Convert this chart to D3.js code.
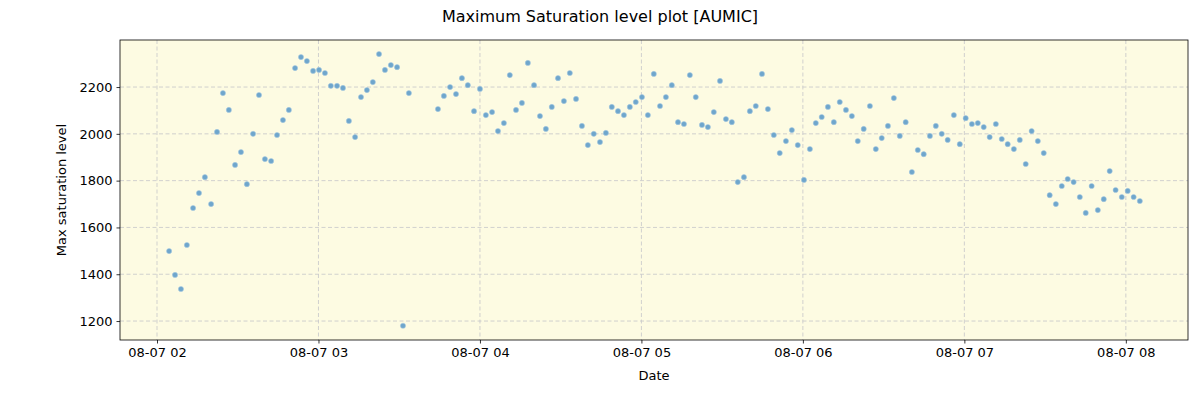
<!DOCTYPE html><html><head><meta charset="utf-8">
<script src="https://cdn.jsdelivr.net/npm/d3@7"></script>
<style>body{margin:0;background:#fff}text{font-family:"DejaVu Sans",sans-serif}</style></head><body>
<svg id="c" width="1200" height="400"></svg>
<script>
// minutes after 2024-08-07 02:00
const minutes=[4.5,6.7,8.9,11.1,13.4,15.6,17.8,20.1,22.3,24.5,
26.7,29.0,31.2,33.4,35.7,37.9,40.1,42.4,44.6,46.8,
49.0,51.3,53.5,55.7,58.0,60.2,62.4,64.6,66.9,69.1,
71.3,73.6,75.8,78.0,80.2,82.5,84.7,86.9,89.2,91.4,93.6,
104.4,106.6,108.9,111.1,113.3,115.5,117.8,120.0,122.2,124.5,
126.7,128.9,131.1,133.4,135.6,137.8,140.1,142.3,144.5,146.7,
149.0,151.2,153.4,155.7,157.9,160.1,162.3,164.6,166.8,169.0,
171.3,173.5,175.7,177.9,180.2,182.4,184.6,186.9,189.1,191.3,
193.6,195.8,198.0,200.2,202.5,204.7,206.9,209.2,211.4,213.6,
215.8,218.1,220.3,222.5,224.8,227.0,229.2,231.4,233.7,235.9,
238.1,240.4,242.6,244.8,247.0,249.3,251.5,253.7,256.0,258.2,
260.4,262.6,264.9,267.1,269.3,271.6,273.8,276.0,278.2,280.5,
282.7,284.9,287.2,289.4,291.6,293.8,296.1,298.3,300.5,302.8,
305.0,307.2,309.4,311.7,313.9,316.1,318.4,320.6,322.8,325.0,
327.3,329.5,331.7,334.0,336.2,338.4,340.6,342.9,345.1,347.3,
349.6,351.8,354.0,356.2,358.5,360.7,362.9,365.2];
const values=[1499,1397,1337,1525,1683,1747,1815,1700,2008,2174,
2102,1867,1922,1785,2000,2166,1892,1884,1995,2059,
2102,2281,2328,2311,2269,2273,2260,2205,2205,2196,
2055,1986,2157,2187,2221,2341,2273,2294,2285,1180,2174,
2106,2162,2200,2170,2238,2208,2097,2192,2080,2093,
2012,2046,2251,2102,2132,2303,2208,2076,2021,2115,
2238,2140,2260,2149,2034,1952,2000,1965,2004,2115,
2097,2080,2115,2136,2157,2080,2256,2119,2157,2208,
2050,2042,2251,2157,2038,2029,2093,2226,2063,2050,
1794,1815,2097,2119,2256,2106,1995,1918,1969,2016,
1952,1803,1935,2046,2072,2115,2050,2136,2102,2076,
1969,2021,2119,1935,1982,2034,2153,1991,2050,1837,
1931,1913,1991,2034,2000,1974,2080,1956,2067,2042,
2046,2029,1986,2042,1978,1956,1935,1974,1871,2012,
1969,1918,1738,1700,1777,1807,1794,1730,1662,1777,
1674,1721,1841,1760,1730,1756,1730,1713];
const yTicks=[1200,1400,1600,1800,2000,2200];
const xTickHours=[2,3,4,5,6,7,8];
const title="Maximum Saturation level plot [AUMIC]";

const base=new Date(2024,7,7,2,0,0);
const t=m=>new Date(base.getTime()+m*60000);
const L=120,R=1188,T=40,B=340;
const x=d3.scaleTime().domain([t(-13.75),t(383.1)]).range([L,R]);
const y=d3.scaleLinear().domain([1119,2401]).range([B,T]);
const svg=d3.select("#c");
svg.append("rect").attr("x",L).attr("y",T).attr("width",R-L).attr("height",B-T).attr("fill","#fdfbe2");
const xt=xTickHours.map(h=>new Date(2024,7,7,h));
const g=svg.append("g");
g.selectAll(".gx").data(xt).join("line").attr("x1",d=>x(d)).attr("x2",d=>x(d)).attr("y1",T).attr("y2",B)
 .attr("stroke","#cccccc").attr("stroke-dasharray","4,2.5").attr("stroke-width",0.9);
g.selectAll(".gy").data(yTicks).join("line").attr("y1",d=>y(d)).attr("y2",d=>y(d)).attr("x1",L).attr("x2",R)
 .attr("stroke","#cccccc").attr("stroke-dasharray","4,2.5").attr("stroke-width",0.9);
const xa=svg.append("g").attr("transform",`translate(0,${B})`).call(d3.axisBottom(x).tickValues(xt).tickSize(3.5).tickPadding(4).tickFormat(d3.timeFormat("%m-%d %H")));
const ya=svg.append("g").attr("transform",`translate(${L},0)`).call(d3.axisLeft(y).tickValues(yTicks).tickSize(3.5).tickPadding(4).tickFormat(d3.format("d")));
[xa,ya].forEach(a=>{a.selectAll("text").attr("font-size",13).attr("fill","#000").style("font-family","DejaVu Sans");a.select(".domain").remove();a.selectAll("line").attr("stroke","#000").attr("stroke-width",0.8);});
svg.selectAll(".pt").data(values).join("circle").attr("cx",(d,i)=>x(t(minutes[i]))).attr("cy",d=>y(d)).attr("r",2.6)
 .attr("fill","#6fa6cc").attr("stroke","#a9cbe2").attr("stroke-width",0.5);
svg.append("rect").attr("x",L).attr("y",T).attr("width",R-L).attr("height",B-T).attr("fill","none").attr("stroke","#000").attr("stroke-width",0.8);
svg.append("text").attr("x",654).attr("y",380).attr("text-anchor","middle").attr("font-size",13).text("Date");
svg.append("text").attr("transform","translate(66,190) rotate(-90)").attr("text-anchor","middle").attr("font-size",13).text("Max saturation level");
svg.append("text").attr("x",600).attr("y",22).attr("text-anchor","middle").attr("font-size",16).text(title);
</script></body></html>
